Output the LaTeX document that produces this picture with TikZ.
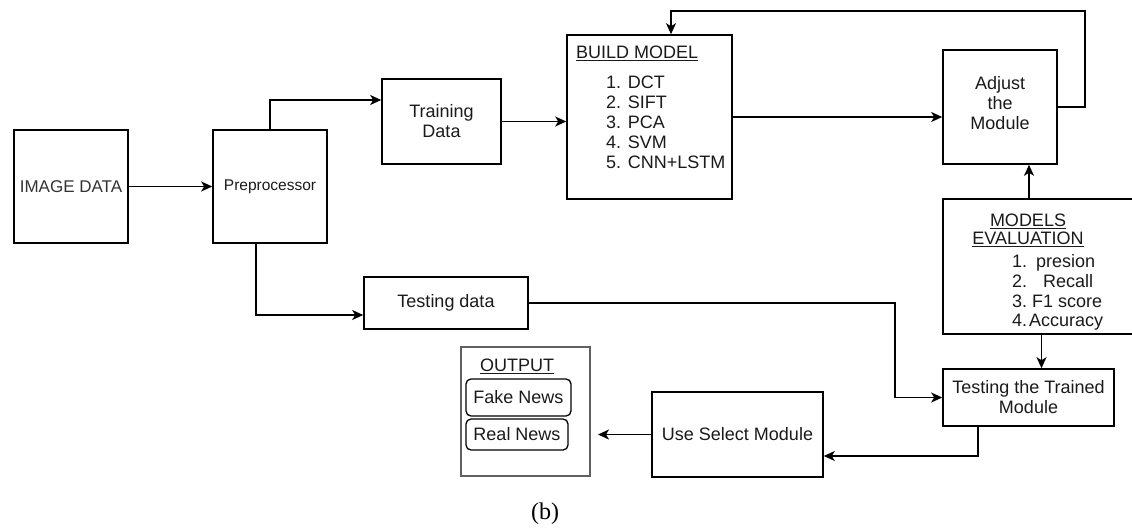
\documentclass[tikz,border=0pt]{standalone}
\usepackage{fontspec}
\setmainfont{Liberation Sans}
\newfontfamily\capserif{Liberation Serif}
\usetikzlibrary{arrows.meta}
\definecolor{txt}{HTML}{1A1A1A}
\definecolor{lightt}{HTML}{333333}
\definecolor{grayline}{HTML}{606060}
\begin{document}
\begin{tikzpicture}[x=1pt,y=-1pt,
  box/.style={draw=black, line width=1.6pt, rectangle, inner sep=0pt, text=txt, align=center, font=\fontsize{18}{20}\selectfont},
  rbox/.style={draw=black, line width=1.3pt, rectangle, rounded corners=5pt, inner sep=0pt, text=txt, font=\fontsize{18}{20}\selectfont},
  lbl/.style={inner sep=0pt, text=txt, font=\fontsize{18}{20}\selectfont},
  arr/.style={line width=1.6pt, -{Stealth[length=11pt,width=10pt,inset=3pt]}},
  ln/.style={line width=1.6pt}
]
\useasboundingbox (0,0) rectangle (1132,532);
% boxes
\node[box, minimum width=114pt, minimum height=113pt, text=lightt, font=\fontsize{17}{20}\selectfont] (img) at (71,186.5) {IMAGE DATA};
\node[box, minimum width=114pt, minimum height=113pt, font=\fontsize{15.5}{18}\selectfont] (pre) at (270,186.5) {Preprocessor};
\node[box, minimum width=119pt, minimum height=85pt] (train) at (441.5,121.5) {Training\\Data};
\node[box, minimum width=165pt, minimum height=164pt] (build) at (649.5,117) {};
\node[lbl, anchor=west] (buildh) at (576,53) {\underline{BUILD MODEL}};
\node[lbl, anchor=west, align=left] (buildl) at (606,122.5) {1. DCT\\2. SIFT\\3. PCA\\4. SVM\\5. CNN+LSTM};
\node[box, minimum width=114pt, minimum height=114pt] (adjust) at (1000,107) {};
\node[lbl, align=center] (adjustt) at (1000,103.5) {Adjust\\the\\Module};
\node[box, minimum width=197pt, minimum height=135pt] (eval) at (1041.5,266.5) {};
\node[lbl, align=center, font=\fontsize{18}{18}\selectfont] (evalh) at (1028,230) {\underline{MODELS}\\\underline{EVALUATION}};
\node[lbl, anchor=west, align=left, font=\fontsize{18}{19.7}\selectfont] (evall) at (1012,292.5) {1.\hspace{9pt}presion\\2.\hspace{16pt}Recall\\3.\hspace{5pt}F1 score\\4.\hspace{2pt}Accuracy};
\node[box, minimum width=164pt, minimum height=52pt] (test) at (446,303) {Testing data};
\node[box, minimum width=171pt, minimum height=57pt] (trained) at (1028.5,397.5) {Testing the Trained\\Module};
\node[box, minimum width=171pt, minimum height=85pt] (use) at (737.5,434.5) {Use Select Module};
\node[box, draw=grayline, line width=2pt, minimum width=129pt, minimum height=129pt] (output) at (525.5,411.5) {};
\node[lbl] (outputh) at (517,366) {\underline{OUTPUT}};
\node[rbox, minimum width=105pt, minimum height=37pt] (fake) at (518.5,397.5) {Fake News};
\node[rbox, minimum width=102pt, minimum height=31pt] (real) at (517,434.5) {Real News};
\node[inner sep=0pt, font=\capserif\fontsize{24}{26}\selectfont] (cap) at (545,514) {(b)};
% connectors
\coordinate (fbR) at (1085,11);
\coordinate (fbL) at (671,11);
\coordinate (ea) at (1029,199);
\coordinate (tx) at (895,303);
\draw[arr] (img.east) -- (pre.west);
\draw[arr] (pre.north) |- ([yshift=21.5pt]train.west);
\draw[arr] (train.east) -- (train.east -| build.west);
\draw[arr] (build.east) -- (build.east -| adjust.west);
\draw[arr] (adjust.east) -| (fbR) -- (fbL) -- (fbL |- build.north);
\draw[arr] (ea) -- (ea |- adjust.south);
\draw[arr] (eval.south) -- (eval.south |- trained.north);
\draw[arr] ([xshift=-14pt]pre.south) |- ([yshift=-12pt]test.west);
\draw[arr] (test.east) -- (tx) |- (trained.west);
\draw[arr] ([xshift=-50.5pt]trained.south) |- ([yshift=-21.5pt]use.east);
\draw[arr, shorten >=7pt] (use.west) -- (use.west -| output.east);
\end{tikzpicture}
\end{document}
